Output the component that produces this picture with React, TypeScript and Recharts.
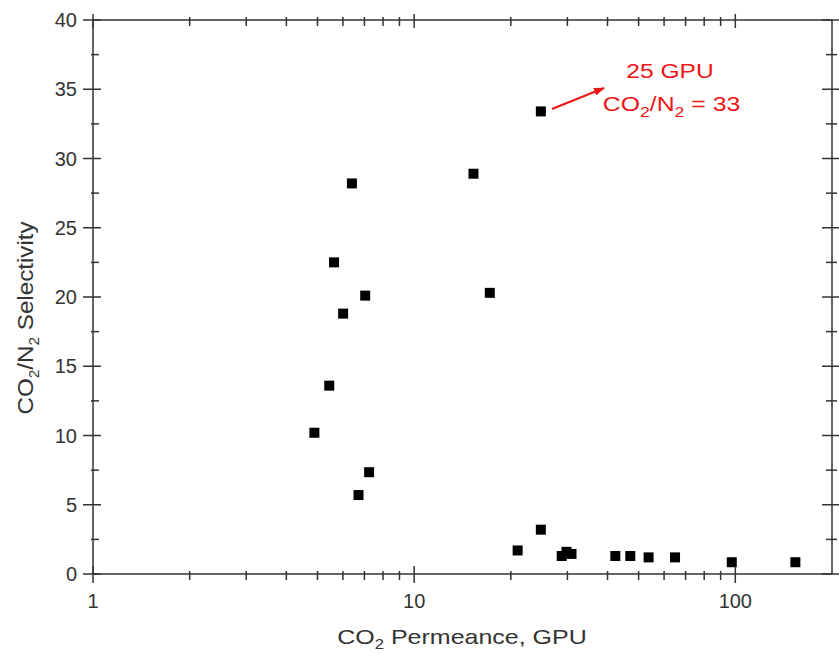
import { Customized, Scatter, ScatterChart, XAxis, YAxis, ZAxis } from "recharts";

// (log x)
const permeance = [4.89, 5.44, 5.63, 6.01, 6.4, 6.71, 7.04, 7.24, 15.3, 17.2, 21.0, 24.8, 24.8, 28.8, 29.8, 30.9, 42.3, 47.1, 53.7, 64.9, 97.5, 153.8];
const selectivity = [10.2, 13.6, 22.5, 18.8, 28.2, 5.7, 20.1, 7.35, 28.9, 20.3, 1.7, 33.4, 3.2, 1.3, 1.6, 1.45, 1.3, 1.3, 1.2, 1.2, 0.85, 0.85];

const xTicks = [1, 2, 3, 4, 5, 6, 7, 8, 9, 10, 20, 30, 40, 50, 60, 70, 80, 90, 100];
const xLabels = [1, 10, 100];
const yTicks = [0, 2.5, 5, 7.5, 10, 12.5, 15, 17.5, 20, 22.5, 25, 27.5, 30, 32.5, 35, 37.5, 40];

const points = permeance.map((x, i) => ({ x, y: selectivity[i] }));

const ink = "#333";
const red = "#f01414";
const font = "Arial, 'Liberation Sans', sans-serif";

function BottomTick(props: any) {
  const { x, y, payload } = props;
  const major = xLabels.includes(payload.value);
  return (
    <g>
      <line x1={x} x2={x} y1={y - (major ? 8 : 3)} y2={y + (major ? 9 : 6)} stroke={ink} strokeWidth={1.5} />
      {major && (
        <text x={x} y={y + 34} textAnchor="middle" fontSize={20} fill={ink} fontFamily={font}>
          {payload.value}
        </text>
      )}
    </g>
  );
}

function TopTick(props: any) {
  const { x, y, payload } = props;
  const major = xLabels.includes(payload.value);
  return <line x1={x} x2={x} y1={y - (major ? 6 : 3)} y2={y + (major ? 8 : 6)} stroke={ink} strokeWidth={1.5} />;
}

function LeftTick(props: any) {
  const { x, y, payload } = props;
  const major = payload.value % 5 === 0;
  return (
    <g>
      <line x1={x - (major ? 10 : 2)} x2={x + (major ? 8 : 6)} y1={y} y2={y} stroke={ink} strokeWidth={1.5} />
      {major && (
        <text x={x - 16} y={y + 7} textAnchor="end" fontSize={20} fill={ink} fontFamily={font}>
          {payload.value}
        </text>
      )}
    </g>
  );
}

function RightTick(props: any) {
  const { x, y, payload } = props;
  const major = payload.value % 5 === 0;
  return <line x1={x - (major ? 10 : 6)} x2={x + (major ? 8 : 5)} y1={y} y2={y} stroke={ink} strokeWidth={1.5} />;
}

function Square(props: any) {
  const { cx, cy } = props;
  return <rect x={cx - 5} y={cy - 5} width={10} height={10} fill="#000" />;
}

function Nothing() {
  return <g />;
}

// stretch text horizontally around a centre, the reference glyphs are wider than tall
const stretch = (cx: number, s: number) => `translate(${cx},0) scale(${s},1) translate(${-cx},0)`;

function Annotations() {
  return (
    <g fontFamily={font}>
      <defs>
        <marker id="arrowHead" markerWidth="11" markerHeight="8" refX="10" refY="4" orient="auto" markerUnits="userSpaceOnUse">
          <path d="M0,0 L11,4 L0,8 Z" fill={red} />
        </marker>
      </defs>
      <line x1={552} y1={109} x2={604} y2={88} stroke={red} strokeWidth={2} markerEnd="url(#arrowHead)" />
      <text x={670} y={78} textAnchor="middle" fontSize={21} fill={red} transform={stretch(670, 1.17)}>
        25 GPU
      </text>
      <text x={671.5} y={111} textAnchor="middle" fontSize={21} fill={red} transform={stretch(671.5, 1.18)}>
        CO<tspan fontSize={15} dy={6}>2</tspan>
        <tspan dy={-6}>/N</tspan>
        <tspan fontSize={15} dy={6}>2</tspan>
        <tspan dy={-6}> = 33</tspan>
      </text>
      <text x={462} y={644} textAnchor="middle" fontSize={21} fill={ink} transform={stretch(462, 1.19)}>
        CO<tspan fontSize={14} dy={5}>2</tspan>
        <tspan dy={-5}> Permeance, GPU</tspan>
      </text>
      <g transform="rotate(-90)">
        <text x={-318} y={33} textAnchor="middle" fontSize={22} fill={ink} transform={stretch(-318, 1.1)}>
          CO<tspan fontSize={14} dy={6}>2</tspan>
          <tspan dy={-6}>/N</tspan>
          <tspan fontSize={14} dy={6}>2</tspan>
          <tspan dy={-6}> Selectivity</tspan>
        </text>
      </g>
    </g>
  );
}

export default function App() {
  return (
    <div style={{ position: "absolute", left: 0, top: 0, width: 839, height: 653, background: "#fff" }}>
      <ScatterChart width={839} height={653} margin={{ top: 19, right: 6, bottom: 0, left: 0 }}>
        <XAxis
          dataKey="x"
          type="number"
          scale="log"
          domain={[1, 200]}
          ticks={xTicks}
          interval={0}
          height={79}
          tickSize={0}
          tickMargin={0}
          tickLine={false}
          axisLine={{ stroke: ink, strokeWidth: 1.5 }}
          tick={<BottomTick />}
        />
        <XAxis
          xAxisId="top"
          dataKey="x"
          orientation="top"
          type="number"
          scale="log"
          domain={[1, 200]}
          ticks={xTicks}
          interval={0}
          height={1}
          tickSize={0}
          tickMargin={0}
          tickLine={false}
          axisLine={{ stroke: ink, strokeWidth: 1.5 }}
          tick={<TopTick />}
        />
        <YAxis
          dataKey="y"
          type="number"
          domain={[0, 40]}
          ticks={yTicks}
          interval={0}
          width={93}
          tickSize={0}
          tickMargin={0}
          tickLine={false}
          axisLine={{ stroke: ink, strokeWidth: 1.5 }}
          tick={<LeftTick />}
        />
        <YAxis
          yAxisId="right"
          dataKey="y"
          orientation="right"
          type="number"
          domain={[0, 40]}
          ticks={yTicks}
          interval={0}
          width={1}
          tickSize={0}
          tickMargin={0}
          tickLine={false}
          axisLine={{ stroke: ink, strokeWidth: 1.5 }}
          tick={<RightTick />}
        />
        <ZAxis range={[100, 100]} />
        <Scatter data={points} shape={<Square />} isAnimationActive={false} />
        <Scatter data={points} xAxisId="top" yAxisId="right" shape={<Nothing />} isAnimationActive={false} />
        <Customized component={<Annotations />} />
      </ScatterChart>
    </div>
  );
}
